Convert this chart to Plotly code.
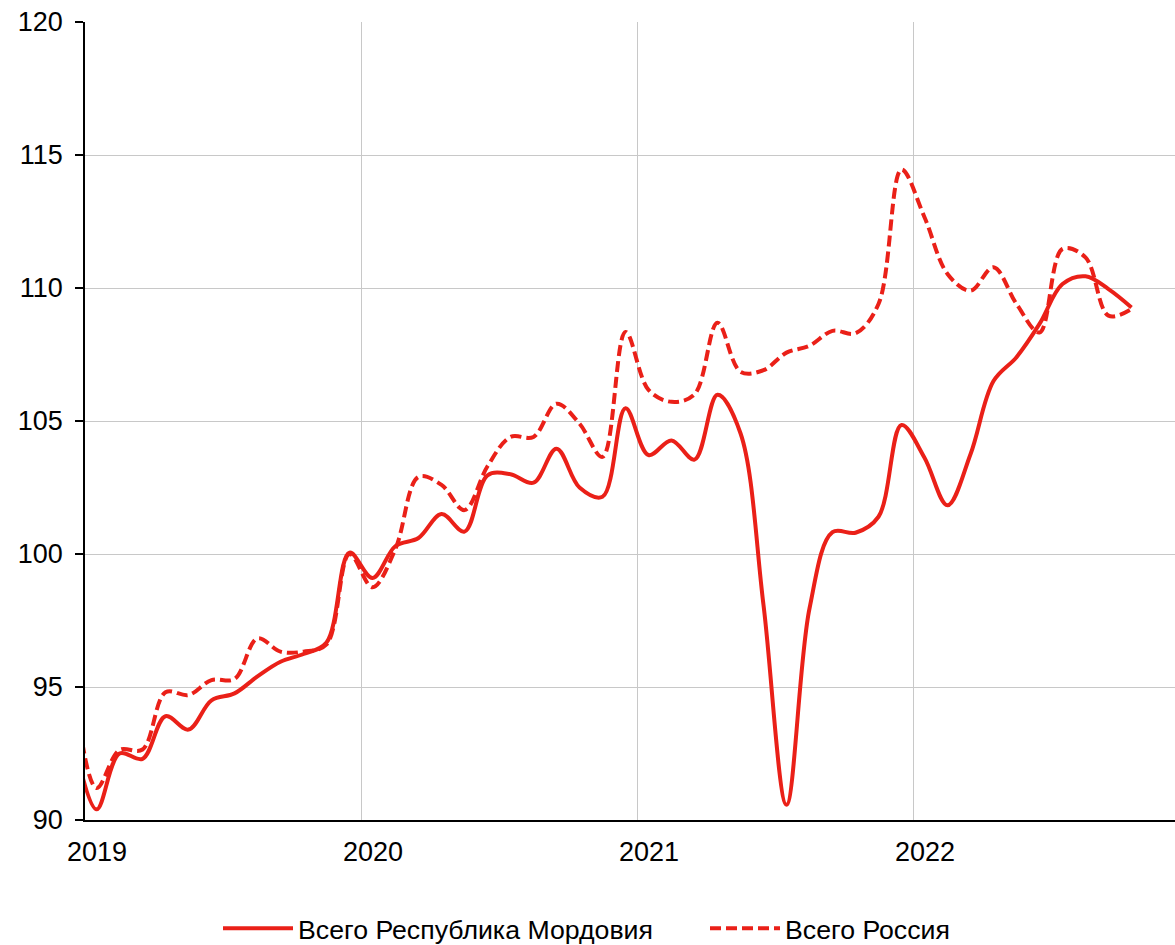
import plotly.graph_objects as go

# Monthly points (mid-month), Dec 2018 .. Oct 2022
years = [2018] + [2019] * 12 + [2020] * 12 + [2021] * 12 + [2022] * 10
months = [12] + list(range(1, 13)) * 3 + list(range(1, 11))

mordovia = [
    93.1,
    90.4, 92.5, 92.3, 93.9, 93.4, 94.5, 94.76, 95.4, 95.95, 96.24, 96.67, 100.05,
    99.1, 100.3, 100.6, 101.5, 100.84, 102.96, 103.0, 102.68, 103.96, 102.5, 102.15, 105.48,
    103.72, 104.27, 103.55, 105.99, 104.54, 98.08, 90.57, 97.95, 100.82, 100.8, 101.4, 104.85,
    103.62, 101.83, 103.75, 106.5, 107.4, 108.65, 110.15, 110.44, 109.96, 109.27,
]
russia = [
    95.3,
    91.2, 92.63, 92.65, 94.8, 94.7, 95.26, 95.3, 96.83, 96.33, 96.33, 96.6, 100.0,
    98.75, 100.2, 102.9, 102.6, 101.65, 103.3, 104.4, 104.4, 105.65, 104.9, 103.65, 108.35,
    106.17, 105.72, 106.0, 108.69, 106.85, 106.91, 107.57, 107.83, 108.39, 108.3, 109.4, 114.45,
    112.66, 110.53, 109.9, 110.78, 109.4, 108.33, 111.47, 111.15, 108.96, 109.21,
]

year_ticks = [2019, 2020, 2021, 2022]
series_names = ["Всего Республика Мордовия", "Всего Россия"]

x = [y + (m - 0.5) / 12 for y, m in zip(years, months)]

RED = "rgb(234,32,24)"

fig = go.Figure()
fig.add_trace(go.Scatter(
    x=x, y=mordovia, mode="lines", name=series_names[0],
    line=dict(color=RED, width=4, shape="spline", smoothing=1.0),
))
fig.add_trace(go.Scatter(
    x=x, y=russia, mode="lines", name=series_names[1],
    line=dict(color=RED, width=4, shape="spline", smoothing=1.0, dash="11px,5px"),
))

font = "Liberation Sans, Arial, sans-serif"
fig.update_layout(
    width=1175, height=945,
    margin=dict(l=85, r=0, t=22, b=125, autoexpand=False),
    paper_bgcolor="white", plot_bgcolor="white",
    font=dict(family=font, size=27, color="black"),
    showlegend=True,
    legend=dict(
        orientation="h", xref="container", x=218 / 1175, xanchor="left",
        yref="paper", y=-0.1357, yanchor="middle",
        font=dict(family=font, size=26.7, color="black"),
        itemwidth=70, entrywidthmode="pixels", entrywidth=402,
    ),
)
fig.update_xaxes(
    range=[2019, 2019 + 1090 / 276],
    tickvals=year_ticks, ticktext=[str(v) for v in year_ticks],
    showgrid=True, gridcolor="#c8c8c8", gridwidth=1,
    showline=True, linecolor="black", linewidth=1.5,
    ticks="", ticklabelshift=12, ticklabelstandoff=7,
    ticklabeloverflow="allow",
    zeroline=False, automargin=False,
    tickfont=dict(size=27),
)
fig.update_yaxes(
    range=[90, 120], tickvals=[90, 95, 100, 105, 110, 115, 120],
    showgrid=True, gridcolor="#c8c8c8", gridwidth=1,
    showline=True, linecolor="black", linewidth=1.5,
    ticks="outside", ticklen=8, tickcolor="black", tickwidth=1.5,
    ticklabelstandoff=7, ticklabeloverflow="allow",
    zeroline=False, automargin=False,
    tickfont=dict(size=27),
)

fig.write_html(
    "out.html",
    config={"displayModeBar": False},
    post_script="document.body.style.margin='0px';document.body.style.overflow='hidden';",
)
